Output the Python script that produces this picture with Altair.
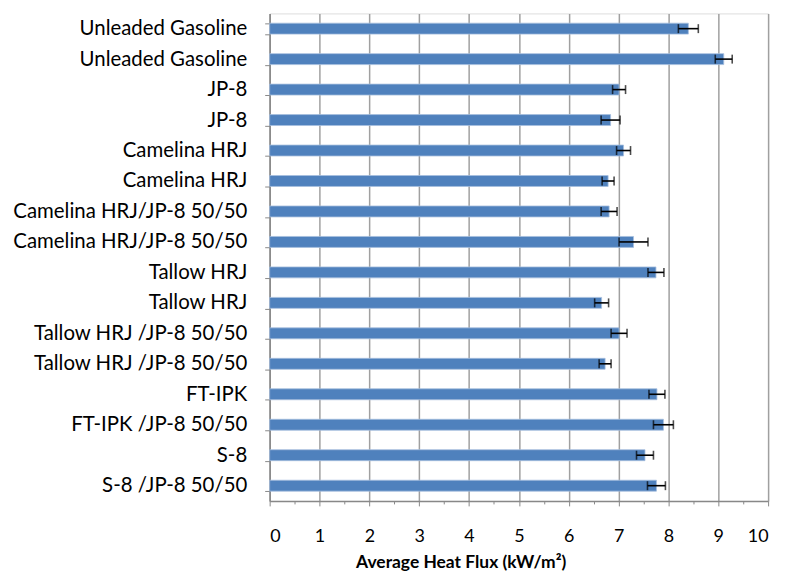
import altair as alt
import pandas as pd

labels = [
    "Unleaded Gasoline", "Unleaded Gasoline", "JP-8", "JP-8",
    "Camelina HRJ", "Camelina HRJ", "Camelina HRJ/JP-8 50/50", "Camelina HRJ/JP-8 50/50",
    "Tallow HRJ", "Tallow HRJ", "Tallow HRJ /JP-8 50/50", "Tallow HRJ /JP-8 50/50",
    "FT-IPK", "FT-IPK /JP-8 50/50", "S-8", "S-8 /JP-8 50/50",
]
values = [8.40, 9.11, 7.01, 6.84, 7.10, 6.79, 6.81, 7.30,
          7.75, 6.66, 7.01, 6.73, 7.77, 7.90, 7.53, 7.76]
errors = [0.20, 0.17, 0.13, 0.19, 0.14, 0.12, 0.16, 0.29,
          0.16, 0.14, 0.16, 0.12, 0.16, 0.20, 0.17, 0.18]
x_ticks = list(range(0, 11))
minor_ticks = [i + 0.5 for i in range(0, 10)]

df = pd.DataFrame({
    "key": [f"{i:02d}|{l}" for i, l in enumerate(labels)],
    "value": values,
    "low": [v - e for v, e in zip(values, errors)],
    "high": [v + e for v, e in zip(values, errors)],
})

FONT = "Lato"
order = list(df["key"])

xscale = alt.Scale(domain=[0, 10], nice=False, zero=True)
yenc = alt.Y(
    "key:N", sort=order, title=None,
    scale=alt.Scale(paddingInner=0.63, paddingOuter=0.315),
    axis=alt.Axis(
        labelExpr="split(datum.label, '|')[1]",
        labelFont=FONT, labelFontSize=20.5, labelColor="#000000",
        labelPadding=18, tickSize=5, tickColor="#888888", tickWidth=1,
        domainColor="#888888", domainWidth=1.5, tickBand="extent",
        labelLimit=400, grid=False,
    ),
)

bars = alt.Chart(df).mark_bar(color="#4F81BD", stroke="#A7BFDE", strokeWidth=0.8, size=11).encode(
    x=alt.X("value:Q", scale=xscale,
            axis=alt.Axis(orient="bottom", values=x_ticks, grid=True, gridColor="#A0A0A0", gridWidth=1.5,
                          tickSize=5, tickColor="#888888", domainColor="#888888", domainWidth=1.5,
                          labelFont=FONT, labelFontSize=18, labelColor="#000000", labelPadding=22,
                          title="Average Heat  Flux (kW/m²)", titleFont=FONT, titleFontSize=17.5,
                          titleFontWeight="bold", titleColor="#000000", titlePadding=8,
                          titleX=192, titleAnchor="start", titleAlign="center")),
    y=yenc,
)

minor = alt.Chart(df).mark_bar(opacity=0).encode(
    x=alt.X("value:Q", scale=xscale,
            axis=alt.Axis(orient="bottom", values=minor_ticks, labels=False, grid=False, domain=False,
                          tickSize=3, tickColor="#888888", title=None)),
    y=alt.Y("key:N", sort=order, title=None),
)

rules = alt.Chart(df).mark_rule(color="#000000", strokeWidth=1.6).encode(
    x=alt.X("low:Q", scale=xscale, axis=None), x2="high:Q", y=alt.Y("key:N", sort=order),
)
cap_lo = alt.Chart(df).mark_tick(color="#000000", thickness=1.6, size=9, orient="vertical").encode(
    x=alt.X("low:Q", scale=xscale, axis=None), y=alt.Y("key:N", sort=order),
)
cap_hi = alt.Chart(df).mark_tick(color="#000000", thickness=1.6, size=9, orient="vertical").encode(
    x=alt.X("high:Q", scale=xscale, axis=None), y=alt.Y("key:N", sort=order),
)

chart = alt.layer(bars, minor, rules, cap_lo, cap_hi).resolve_axis(x="independent").properties(
    width=501, height=490,
    autosize=alt.AutoSizeParams(type="none"),
    padding={"left": 263, "top": 4, "right": 20, "bottom": 70},
).configure_view(stroke=None).configure(background="#ffffff")

chart.save("out.html", embed_options={"renderer": "svg", "actions": False})
